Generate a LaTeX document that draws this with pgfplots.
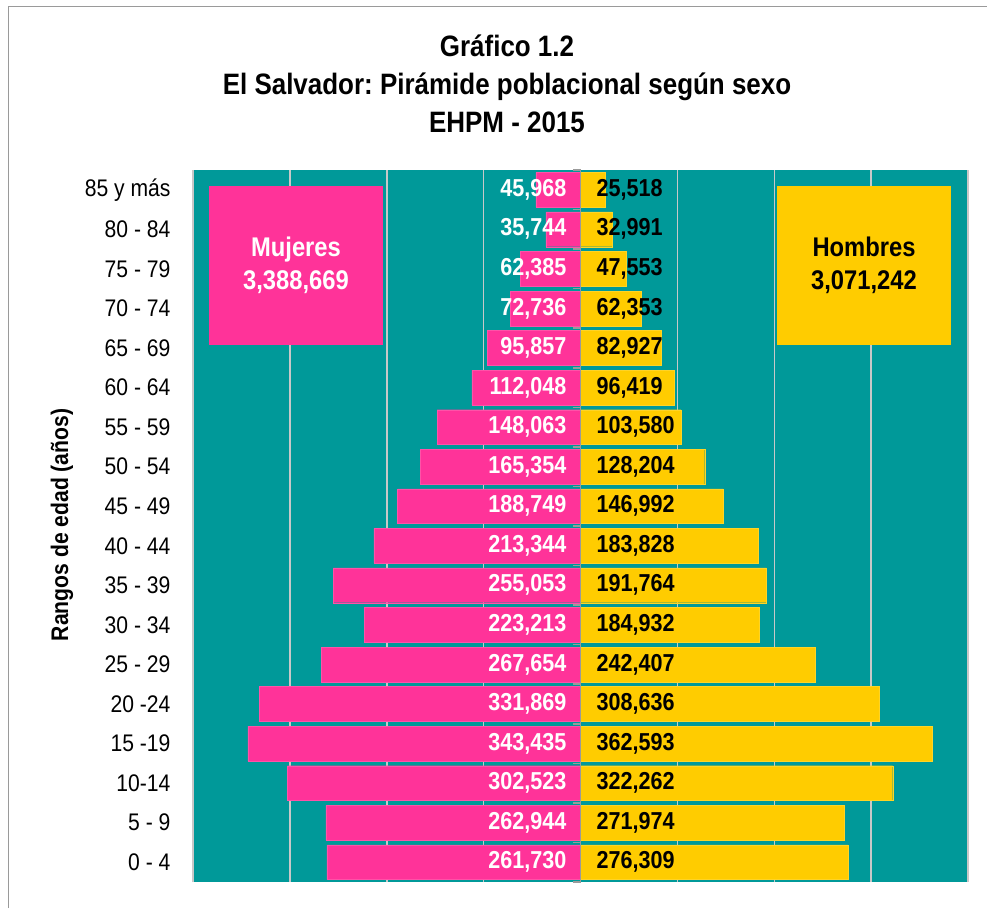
\documentclass[border=0pt]{standalone}
\usepackage{fontspec}
\setmainfont{Liberation Sans}[FakeStretch=0.88]
\usepackage{pgfplots}
\usepackage{pgfplotstable}
\pgfplotsset{compat=1.18}
\frenchspacing
\definecolor{tealbg}{HTML}{009999}
\definecolor{pinkbar}{HTML}{FF3399}
\definecolor{yellowbar}{HTML}{FFCC00}
\definecolor{gridgray}{HTML}{C8C8C8}
\definecolor{framegray}{HTML}{9A9A9A}
\pgfplotstableread{
idx muj hom mlab hlab
0 -261730 276309 261,730 276,309
1 -262944 271974 262,944 271,974
2 -302523 322262 302,523 322,262
3 -343435 362593 343,435 362,593
4 -331869 308636 331,869 308,636
5 -267654 242407 267,654 242,407
6 -223213 184932 223,213 184,932
7 -255053 191764 255,053 191,764
8 -213344 183828 213,344 183,828
9 -188749 146992 188,749 146,992
10 -165354 128204 165,354 128,204
11 -148063 103580 148,063 103,580
12 -112048 96419 112,048 96,419
13 -95857 82927 95,857 82,927
14 -72736 62353 72,736 62,353
15 -62385 47553 62,385 47,553
16 -35744 32991 35,744 32,991
17 -45968 25518 45,968 25,518
}\datatable
\begin{document}
\begin{tikzpicture}[x=1pt,y=1pt]
\useasboundingbox (0,0) rectangle (987,908);
\draw[framegray, line width=1pt] (8,0) -- (8,901) -- (987,901);
\node[font=\fontsize{29.5}{38}\selectfont\bfseries, align=center] at (507,824)
  {Gráfico 1.2\\El Salvador: Pirámide poblacional según sexo\\EHPM - 2015};
\node[font=\fontsize{24}{28}\selectfont\bfseries, rotate=90] at (62,383) {Rangos de edad (años)};
\begin{axis}[
  at={(193pt,26pt)}, anchor=south west,
  width=775pt, height=712pt, scale only axis,
  xmin=-400000, xmax=400000, ymin=-0.5, ymax=17.5,
  axis background/.style={fill=tealbg},
  axis line style={draw=none},
  xtick={-400000,-300000,-200000,-100000,100000,200000,300000,400000},
  xticklabels={},
  scaled x ticks=false,
  xmajorgrids,
  grid style={gridgray, line width=1.5pt},
  major tick length=0pt,
  ytick={0,...,17},
  yticklabels={0 - 4,5 - 9,10-14,15 -19,20 -24,25 - 29,30 - 34,35 - 39,40 - 44,45 - 49,50 - 54,55 - 59,60 - 64,65 - 69,70 - 74,75 - 79,80 - 84,85 y más},
  yticklabel style={font=\fontsize{24}{28}\selectfont, anchor=east, xshift=-19pt},
  clip=false,
]
\addplot[xbar, bar shift=0pt, bar width=0.88, fill=pinkbar, draw=pinkbar!85!white] table[x=muj, y=idx] {\datatable};
\addplot[xbar, bar shift=0pt, bar width=0.88, fill=yellowbar, draw=yellowbar!85!white] table[x=hom, y=idx] {\datatable};
\draw[framegray, line width=1.5pt] (axis cs:0,-0.5) -- (axis cs:0,17.5);
\pgfplotsinvokeforeach{0,...,18}{
  \draw[framegray, line width=1.5pt] (axis cs:0,#1-0.5) -- ++(-8pt,0pt);
}
\addplot[only marks, mark=none, point meta=explicit symbolic,
  nodes near coords,
  nodes near coords style={anchor=east, xshift=-14pt, text=white, font=\fontsize{24.5}{28}\selectfont\bfseries, inner sep=0pt}]
  table[x expr=0, y=idx, meta=mlab] {\datatable};
\addplot[only marks, mark=none, point meta=explicit symbolic,
  nodes near coords,
  nodes near coords style={anchor=west, xshift=16pt, text=black, font=\fontsize{24.5}{28}\selectfont\bfseries, inner sep=0pt}]
  table[x expr=0, y=idx, meta=hlab] {\datatable};
\end{axis}
\fill[pinkbar] (209,563) rectangle (383,722);
\node[text=white, font=\fontsize{27}{33}\selectfont\bfseries, align=center] at (296,642.5) {Mujeres\\3,388,669};
\fill[yellowbar] (777,563) rectangle (951,722);
\node[text=black, font=\fontsize{27}{33}\selectfont\bfseries, align=center] at (864,642.5) {Hombres\\3,071,242};
\end{tikzpicture}
\end{document}
